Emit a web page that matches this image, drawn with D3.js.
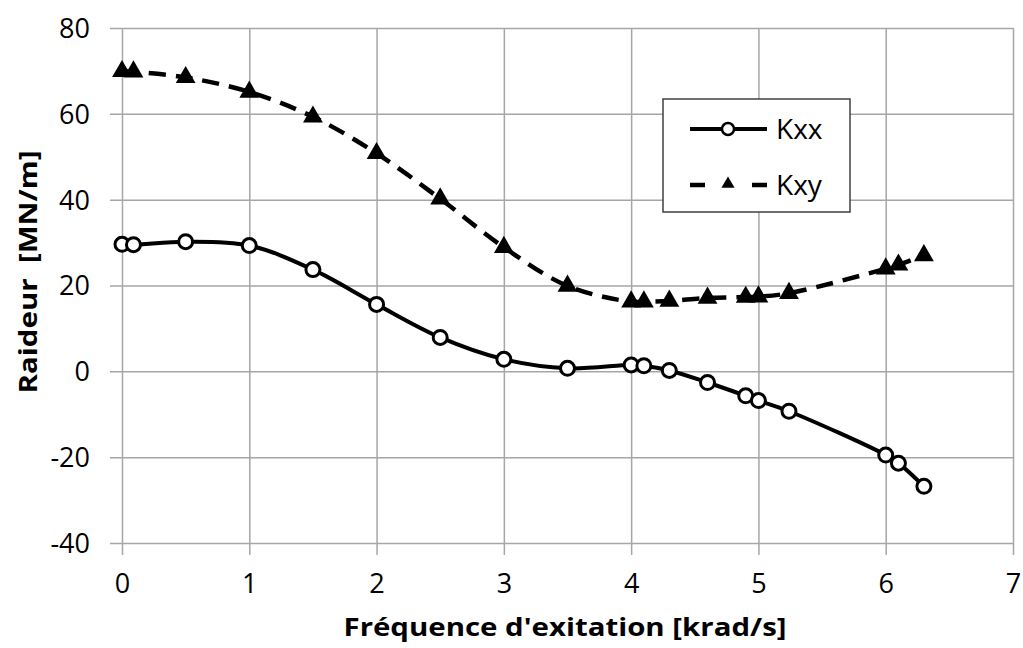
<!DOCTYPE html>
<html>
<head>
<meta charset="utf-8">
<script src="https://cdn.jsdelivr.net/npm/d3@7"></script>
<style>
  body { margin: 0; background: #fff; }
  svg { display: block; }
  text { font-family: "Open Sans", "Noto Sans", sans-serif; fill: #000; }
</style>
</head>
<body>
<div id="chart"></div>
<script>
// values
const freq = [0, 0.09, 0.5, 1, 1.5, 2, 2.5, 3, 3.5, 4, 4.1, 4.3, 4.6, 4.9, 5.0, 5.24, 6.0, 6.1, 6.3];
const kxx = [29.6, 29.5, 30.2, 29.3, 23.7, 15.6, 7.9, 2.8, 0.7, 1.5, 1.3, 0.2, -2.6, -5.7, -6.8, -9.3, -19.5, -21.4, -26.8];
const kxy = [69.9, 69.8, 68.5, 65.1, 59.3, 50.8, 40.2, 28.9, 19.9, 16.2, 16.2, 16.4, 17.1, 17.3, 17.4, 18.2, 23.9, 24.8, 27.0];
const xTicks = [0, 1, 2, 3, 4, 5, 6, 7];
const yTicks = [-40, -20, 0, 20, 40, 60, 80];
const seriesNames = ["Kxx", "Kxy"];

const W = 1023, H = 648;
const svg = d3.select("#chart").append("svg")
  .attr("width", W)
  .attr("height", H);

const x = d3.scaleLinear().domain([0, 7]).range([122, 1013]);
const y = d3.scaleLinear().domain([-40, 80]).range([543, 28]);

const gridColor = "#a6a6a6";

// horizontal gridlines + y labels (plain hyphen for negatives)
const yAxis = svg.append("g")
  .attr("transform", "translate(110,0)")
  .call(d3.axisLeft(y).tickValues(yTicks).tickSize(-(1013 - 110)).tickPadding(20).tickFormat(d => String(d)));
yAxis.select(".domain").remove();
yAxis.selectAll("line").attr("stroke", gridColor).attr("stroke-width", 1.5);
yAxis.selectAll("text").attr("font-size", 27).attr("dy", "0.35em");

// vertical gridlines + x labels
const xAxis = svg.append("g")
  .attr("transform", "translate(0,555)")
  .call(d3.axisBottom(x).tickValues(xTicks).tickSize(-(555 - 28)).tickPadding(0).tickFormat(d => String(d)));
xAxis.select(".domain").remove();
xAxis.selectAll("line").attr("stroke", gridColor).attr("stroke-width", 1.5);
xAxis.selectAll("text").attr("font-size", 27).attr("y", 38).attr("dy", 0);

// axis titles
svg.append("text")
  .attr("x", 565)
  .attr("y", 636)
  .attr("text-anchor", "middle")
  .attr("font-size", 25)
  .attr("font-weight", "bold")
  .attr("textLength", 443)
  .attr("lengthAdjust", "spacingAndGlyphs")
  .text("Fréquence d'exitation [krad/s]");

svg.append("text")
  .attr("transform", "translate(37,272) rotate(-90)")
  .attr("text-anchor", "middle")
  .attr("font-size", 25)
  .attr("font-weight", "bold")
  .attr("textLength", 243)
  .attr("lengthAdjust", "spacingAndGlyphs")
  .style("white-space", "pre")
  .text("Raideur  [MN/m]");

const dataXX = freq.map((f, i) => [f, kxx[i]]);
const dataXY = freq.map((f, i) => [f, kxy[i]]);

const line = d3.line()
  .x(d => x(d[0]))
  .y(d => y(d[1]))
  .curve(d3.curveCatmullRom.alpha(0.5));

// Kxy dashed with triangles
svg.append("path")
  .attr("d", line(dataXY))
  .attr("fill", "none")
  .attr("stroke", "#000")
  .attr("stroke-width", 4.5)
  .attr("stroke-dasharray", "17,10");

const tri = d3.symbol().type(d3.symbolTriangle).size(170);
svg.selectAll(".tri")
  .data(dataXY)
  .enter()
  .append("path")
  .attr("class", "tri")
  .attr("d", tri)
  .attr("transform", d => `translate(${x(d[0])},${y(d[1])})`)
  .attr("fill", "#000");

// Kxx solid with open circles
svg.append("path")
  .attr("d", line(dataXX))
  .attr("fill", "none")
  .attr("stroke", "#000")
  .attr("stroke-width", 4);

svg.selectAll(".circ")
  .data(dataXX)
  .enter()
  .append("circle")
  .attr("class", "circ")
  .attr("cx", d => x(d[0]))
  .attr("cy", d => y(d[1]))
  .attr("r", 7)
  .attr("fill", "#fff")
  .attr("stroke", "#000")
  .attr("stroke-width", 3);

// Legend
const lg = svg.append("g");
lg.append("rect")
  .attr("x", 663).attr("y", 99)
  .attr("width", 187).attr("height", 113)
  .attr("fill", "#fff")
  .attr("stroke", "#404040")
  .attr("stroke-width", 1.5);

lg.append("line")
  .attr("x1", 690).attr("x2", 767)
  .attr("y1", 129).attr("y2", 129)
  .attr("stroke", "#000").attr("stroke-width", 4);
lg.append("circle")
  .attr("cx", 728).attr("cy", 129).attr("r", 6)
  .attr("fill", "#fff").attr("stroke", "#000").attr("stroke-width", 2.5);

lg.append("line")
  .attr("x1", 690).attr("x2", 767)
  .attr("y1", 185).attr("y2", 185)
  .attr("stroke", "#000").attr("stroke-width", 4.5)
  .attr("stroke-dasharray", "15,47,15");
lg.append("path")
  .attr("d", d3.symbol().type(d3.symbolTriangle).size(75))
  .attr("transform", "translate(728,184)")
  .attr("fill", "#000");

lg.selectAll(".lt")
  .data(seriesNames)
  .enter()
  .append("text")
  .attr("x", 776)
  .attr("y", (d, i) => 139 + i * 56)
  .attr("font-size", 28)
  .text(d => d);
</script>
</body>
</html>
